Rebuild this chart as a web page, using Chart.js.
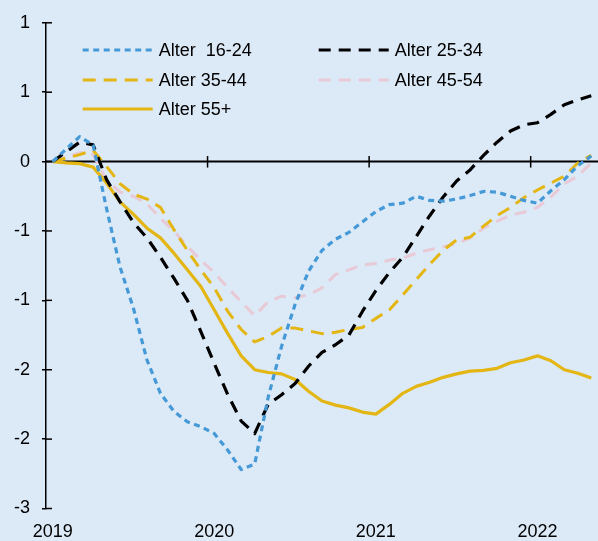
<!DOCTYPE html>
<html>
<head>
<meta charset="utf-8">
<script src="https://cdn.jsdelivr.net/npm/chart.js@4/dist/chart.umd.min.js"></script>
<style>
html,body{margin:0;padding:0;background:#dce9f7;}
#wrap{width:598px;height:541px;}
</style>
</head>
<body>
<div id="wrap"><canvas id="c" width="598" height="541"></canvas></div>
<script>
const categories = ["2019-01","2019-02","2019-03","2019-04","2019-05","2019-06","2019-07","2019-08","2019-09","2019-10","2019-11","2019-12",
"2020-01","2020-02","2020-03","2020-04","2020-05","2020-06","2020-07","2020-08","2020-09","2020-10","2020-11","2020-12",
"2021-01","2021-02","2021-03","2021-04","2021-05","2021-06","2021-07","2021-08","2021-09","2021-10","2021-11","2021-12",
"2022-01","2022-02","2022-03","2022-04","2022-05"];
const xTickLabels = ["2019","2020","2021","2022"];
const yTickValues = [1, 0.5, 0, -0.5, -1, -1.5, -2, -2.5];
const yTickLabels = ["1","1","0","-1","-1","-2","-2","-3"];
const seriesNames = ["Alter  16-24","Alter 25-34","Alter 35-44","Alter 45-54","Alter 55+"];

const age1624 = [0, 0.09, 0.18, 0.12, -0.34, -0.76, -1.06, -1.43, -1.67, -1.80, -1.875, -1.91, -1.96, -2.08, -2.22, -2.18, -1.70, -1.33, -1.03, -0.79, -0.64, -0.56, -0.51, -0.435, -0.36, -0.31, -0.30, -0.25, -0.28, -0.285, -0.27, -0.245, -0.215, -0.22, -0.25, -0.28, -0.30, -0.21, -0.13, -0.03, 0.04];
const age2534 = [0, 0.07, 0.14, 0.12, -0.13, -0.29, -0.44, -0.55, -0.69, -0.84, -1.0, -1.225, -1.455, -1.68, -1.87, -1.96, -1.75, -1.68, -1.60, -1.475, -1.375, -1.32, -1.25, -1.08, -0.93, -0.80, -0.69, -0.54, -0.39, -0.255, -0.14, -0.06, 0.045, 0.14, 0.22, 0.265, 0.28, 0.34, 0.41, 0.445, 0.475];
const age3544 = [0, 0.025, 0.05, 0.08, -0.035, -0.16, -0.235, -0.27, -0.33, -0.49, -0.64, -0.78, -0.91, -1.08, -1.21, -1.30, -1.26, -1.20, -1.20, -1.22, -1.24, -1.23, -1.21, -1.195, -1.13, -1.07, -0.96, -0.85, -0.74, -0.64, -0.565, -0.545, -0.465, -0.39, -0.33, -0.26, -0.205, -0.155, -0.105, -0.01, 0.045];
const age4554 = [0, 0.03, 0.065, 0.05, -0.135, -0.22, -0.25, -0.305, -0.41, -0.5, -0.61, -0.71, -0.80, -0.91, -1.01, -1.11, -1.01, -0.97, -0.98, -0.96, -0.91, -0.815, -0.78, -0.745, -0.735, -0.71, -0.695, -0.66, -0.635, -0.615, -0.59, -0.55, -0.48, -0.43, -0.385, -0.365, -0.33, -0.255, -0.16, -0.105, -0.01];
const age55 = [0, -0.01, -0.015, -0.04, -0.155, -0.29, -0.38, -0.48, -0.55, -0.66, -0.78, -0.90, -1.07, -1.24, -1.40, -1.50, -1.52, -1.53, -1.57, -1.655, -1.725, -1.755, -1.775, -1.805, -1.82, -1.75, -1.67, -1.62, -1.59, -1.555, -1.53, -1.51, -1.505, -1.49, -1.45, -1.43, -1.40, -1.435, -1.50, -1.525, -1.56];

const FONT = "'Liberation Sans', Arial, sans-serif";
const BG = '#dce9f7';

function ds(label, data, color, width, dash, order) {
  return { label, data, borderColor: color, backgroundColor: color, borderWidth: width,
    borderDash: dash, borderCapStyle: 'butt', borderJoinStyle: 'round', pointRadius: 0,
    pointHoverRadius: 0, tension: 0, fill: false, order };
}

const datasets = [
  ds(seriesNames[0], age1624, '#4499d6', 3.2, [6, 4.5], 0),
  ds(seriesNames[1], age2534, '#000000', 3.2, [12, 8], 1),
  ds(seriesNames[2], age3544, '#e3b614', 3.0, [13, 8], 3),
  ds(seriesNames[3], age4554, '#e8c9d6', 3.0, [12, 8], 4),
  ds(seriesNames[4], age55, '#e3b614', 3.2, [], 2)
];

const bgPlugin = {
  id: 'bg',
  beforeDraw(chart) {
    const ctx = chart.ctx;
    ctx.save();
    ctx.fillStyle = BG;
    ctx.fillRect(0, 0, chart.width, chart.height);
    ctx.restore();
  }
};

const axesPlugin = {
  id: 'axesDeco',
  beforeDatasetsDraw(chart) {
    const ctx = chart.ctx, x = chart.scales.x, y = chart.scales.y, ca = chart.chartArea;
    ctx.save();
    ctx.strokeStyle = '#000';
    const y0 = y.getPixelForValue(0);
    ctx.lineWidth = 2;
    ctx.beginPath(); ctx.moveTo(ca.left, y0); ctx.lineTo(ca.right, y0); ctx.stroke();
    ctx.lineWidth = 1.5;
    categories.forEach((c, i) => {
      if (i > 0 && c.endsWith('-01')) {
        const px = (x.getPixelForValue(i - 1) + x.getPixelForValue(i)) / 2;
        ctx.beginPath(); ctx.moveTo(px, y0 - 5.5); ctx.lineTo(px, y0 + 6); ctx.stroke();
      }
    });
    yTickValues.forEach(v => {
      const py = y.getPixelForValue(v);
      ctx.beginPath(); ctx.moveTo(ca.left, py); ctx.lineTo(ca.left + 6, py); ctx.stroke();
    });
    ctx.restore();
  }
};

const legendPlugin = {
  id: 'customLegend',
  afterDatasetsDraw(chart) {
    const ctx = chart.ctx;
    const slots = [[82.7, 50], [318.7, 50], [82.7, 80], [318.7, 80], [82.7, 109]];
    ctx.save();
    chart.data.datasets.forEach((d, i) => {
      const [lx, ly] = slots[i];
      ctx.strokeStyle = d.borderColor;
      ctx.lineWidth = d.borderWidth;
      ctx.setLineDash(d.borderDash);
      ctx.lineCap = 'butt';
      ctx.beginPath(); ctx.moveTo(lx, ly); ctx.lineTo(lx + 70, ly); ctx.stroke();
      ctx.setLineDash([]);
      ctx.fillStyle = '#000';
      ctx.font = '18px ' + FONT;
      ctx.textBaseline = 'middle';
      ctx.textAlign = 'left';
      ctx.fillText(d.label, lx + 76, ly + 1);
    });
    ctx.restore();
  }
};

new Chart(document.getElementById('c'), {
  type: 'line',
  data: { labels: categories, datasets },
  plugins: [bgPlugin, axesPlugin, legendPlugin],
  options: {
    responsive: false,
    animation: false,
    devicePixelRatio: 1,
    layout: { padding: { top: 20, right: 0, left: 0, bottom: 0 } },
    plugins: { legend: { display: false }, tooltip: { enabled: false } },
    scales: {
      x: {
        type: 'category',
        offset: true,
        grid: { display: false, drawTicks: false },
        border: { display: false },
        ticks: {
          autoSkip: false, maxRotation: 0, minRotation: 0, padding: 13,
          color: '#000', font: { family: FONT, size: 18 },
          callback(v, i) {
            const c = categories[i];
            if (c.endsWith('-01')) {
              const yr = c.slice(0, 4);
              return xTickLabels.find(t => t === yr) || null;
            }
            return null;
          }
        },
        afterFit(s) { s.height = 32.5; }
      },
      y: {
        min: -2.5, max: 1,
        grid: { drawOnChartArea: false, drawTicks: true, tickLength: 4, color: '#000', lineWidth: 1.5 },
        border: { display: true, color: '#000', width: 1.5 },
        ticks: {
          stepSize: 0.5, padding: 12, color: '#000', font: { family: FONT, size: 18 },
          callback(v) {
            const k = yTickValues.findIndex(t => Math.abs(t - v) < 1e-9);
            return k >= 0 ? yTickLabels[k] : '';
          }
        },
        afterFit(s) { s.width = 46; }
      }
    }
  }
});
</script>
</body>
</html>
